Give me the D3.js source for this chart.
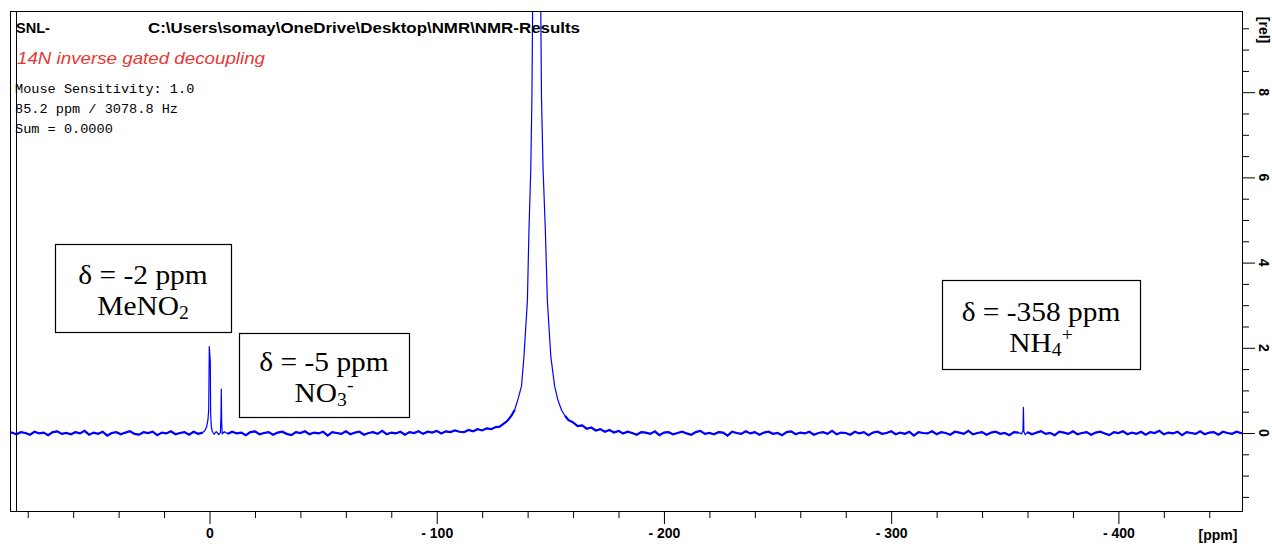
<!DOCTYPE html>
<html>
<head>
<meta charset="utf-8">
<script src="https://cdn.jsdelivr.net/npm/d3@7"></script>
<style>
  body { margin: 0; background: #fff; }
  svg { display: block; }
</style>
</head>
<body>
<div id="chart"></div>
<script>

// Spectrum, as [ppm, rel] pairs, split in pieces
const baselineLeft = [
  [87.8, 0.01], [87, 0.01], [85, -0.03], [83, 0.02], [81, 0.00], [79, -0.04], [77, 0.03], [75, -0.01],
  [73, 0.01], [71, -0.05], [69, 0.02], [67, 0.04], [65, -0.02], [63, 0.00], [61, -0.03],
  [59, 0.02], [57, -0.01], [55, 0.05], [53, -0.04], [51, 0.01], [49, -0.02], [47, 0.03],
  [45, -0.06], [43, 0.00], [41, 0.02], [39, -0.03], [37, 0.01], [35, 0.04], [33, -0.02],
  [31, -0.04], [29, 0.02], [27, 0.00], [25, 0.03], [23, -0.05], [21, 0.01], [19, -0.01],
  [17, 0.04], [15, -0.03], [13, 0.00], [11, 0.02], [9, -0.04], [7, 0.03], [5, -0.02], [3, 0.01]
];
const meno2Peak = [
  [2.0, 0.06], [1.3, 0.14], [0.7, 0.3], [0.35, 0.55], [0.09, 2.03], [-0.35, 1.67], [-0.5, 0.45],
  [-0.8, 0.15], [-1.2, 0.04], [-2, -0.03], [-3, 0.03], [-4, -0.04], [-4.8, 0.01]
];
const no3Peak = [
  [-5.05, 0.4], [-5.2, 1.03], [-5.35, 0.25], [-5.6, -0.02], [-6.5, 0.03]
];
const baselineMid = [
  [-8, -0.02], [-10, 0.03], [-12, -0.01], [-14, 0.01], [-16, -0.05], [-18, 0.02], [-20, 0.04],
  [-22, -0.03], [-24, 0.00], [-26, 0.02], [-28, -0.04], [-30, 0.01], [-32, 0.03], [-34, -0.02],
  [-36, -0.05], [-38, 0.02], [-40, 0.00], [-42, 0.04], [-44, -0.03], [-46, 0.01], [-48, -0.01],
  [-50, 0.03], [-52, -0.06], [-54, 0.02], [-56, 0.00], [-58, -0.02], [-60, 0.04], [-62, -0.03],
  [-64, 0.01], [-66, 0.03], [-68, -0.04], [-70, 0.00], [-72, 0.02], [-74, -0.02], [-76, 0.05],
  [-78, -0.03], [-80, 0.01], [-82, -0.01], [-84, 0.03], [-86, -0.04], [-88, 0.02], [-90, 0.00],
  [-92, 0.04], [-94, -0.02], [-96, 0.03], [-98, 0.01], [-100, 0.05], [-102, -0.01], [-104, 0.04],
  [-106, 0.02], [-108, 0.06], [-110, 0.03]
];
const mainPeak = [
  [-112, 0.02], [-114, 0.07], [-116, 0.04], [-118, 0.09], [-120, 0.06], [-122, 0.11], [-124, 0.09],
  [-126, 0.14], [-127.7, 0.15], [-129.5, 0.22], [-131, 0.28], [-132.8, 0.4], [-134.3, 0.54],
  [-135.8, 0.8], [-137.3, 1.1], [-138.4, 1.8], [-139.9, 3.1], [-140.6, 4.77], [-141.4, 6.2],
  [-141.9, 7.9], [-142.2, 9.9], [-143, 14], [-144, 18], [-145, 14], [-145.8, 9.9], [-146.1, 7.9],
  [-146.8, 6.2], [-147.8, 4.77], [-148.7, 3.1], [-150.2, 1.8], [-151.9, 1.1], [-153.3, 0.78],
  [-154.9, 0.54], [-156.5, 0.4], [-158, 0.3], [-160, 0.25], [-162, 0.16], [-164, 0.18],
  [-166, 0.1], [-168, 0.13], [-170, 0.06], [-172, 0.09], [-174, 0.03], [-176, 0.07],
  [-178, 0.01], [-180, 0.05]
];
const baselineRight = [
  [-182, -0.01], [-184, 0.03], [-186, 0.00], [-188, -0.04], [-190, 0.02], [-192, 0.01], [-194, -0.02],
  [-196, 0.04], [-198, -0.05], [-200, 0.01], [-202, 0.02], [-204, -0.03], [-206, 0.00], [-208, 0.03],
  [-210, -0.01], [-212, -0.04], [-214, 0.02], [-216, 0.05], [-218, -0.02], [-220, 0.00], [-222, -0.03],
  [-224, 0.02], [-226, 0.01], [-228, -0.06], [-230, 0.03], [-232, 0.00], [-234, -0.02], [-236, 0.04],
  [-238, -0.01], [-240, 0.02], [-242, -0.04], [-244, 0.01], [-246, 0.03], [-248, -0.02], [-250, 0.00],
  [-252, -0.05], [-254, 0.02], [-256, 0.04], [-258, -0.03], [-260, 0.01], [-262, -0.01], [-264, 0.03],
  [-266, -0.04], [-268, 0.00], [-270, 0.02], [-272, -0.02], [-274, 0.05], [-276, -0.03], [-278, 0.01],
  [-280, 0.00], [-282, -0.04], [-284, 0.03], [-286, -0.01], [-288, 0.02], [-290, -0.05], [-292, 0.01],
  [-294, 0.03], [-296, -0.02], [-298, 0.00], [-300, 0.04], [-302, -0.03], [-304, 0.01], [-306, -0.02],
  [-308, 0.03], [-310, -0.06], [-312, 0.02], [-314, 0.00], [-316, -0.01], [-318, 0.04], [-320, -0.03],
  [-322, 0.02], [-324, 0.00], [-326, -0.04], [-328, 0.03], [-330, 0.01], [-332, -0.02], [-334, 0.05],
  [-336, -0.03], [-338, 0.00], [-340, 0.02], [-342, -0.04], [-344, 0.01], [-346, 0.03], [-348, -0.02],
  [-350, 0.00], [-352, -0.05], [-354, 0.02], [-356, 0.01]
];
const nh4Peak = [
  [-357.4, -0.02], [-358.0, 0.05], [-358.2, 0.6], [-358.4, 0.03], [-359, -0.04]
];
const baselineTail = [
  [-360, 0.02], [-362, -0.03], [-364, 0.01], [-366, 0.04], [-368, -0.02], [-370, 0.00], [-372, -0.05],
  [-374, 0.03], [-376, 0.01], [-378, -0.02], [-380, 0.04], [-382, -0.03], [-384, 0.00], [-386, 0.02],
  [-388, -0.04], [-390, 0.01], [-392, 0.03], [-394, -0.01], [-396, -0.05], [-398, 0.02], [-400, 0.00],
  [-402, 0.04], [-404, -0.03], [-406, 0.01], [-408, -0.02], [-410, 0.03], [-412, -0.04], [-414, 0.02],
  [-416, 0.00], [-418, 0.05], [-420, -0.03], [-422, 0.01], [-424, -0.01], [-426, 0.03], [-428, -0.05],
  [-430, 0.02], [-432, 0.00], [-434, -0.02], [-436, 0.04], [-438, -0.03], [-440, 0.01], [-442, 0.02],
  [-444, -0.04], [-446, 0.03], [-448, 0.00], [-450, -0.02], [-452, 0.03], [-454.4, -0.01]
];

// Axis ticks
const ppmMajorTicks = [0, -100, -200, -300, -400];
const ppmMinorTicks = [80, 60, 40, 20, -20, -40, -60, -80, -120, -140, -160, -180, -220, -240, -260, -280,
  -320, -340, -360, -380, -420, -440];
const relMajorTicks = [0, 2, 4, 6, 8];
const relMinorTicks = [-1.5, -1, -0.5, 0.5, 1, 1.5, 2.5, 3, 3.5, 4.5, 5, 5.5, 6.5, 7, 7.5, 8.5, 9, 9.5];

// Header texts
const headerTitle = 'SNL-';
const headerPath = 'C:\\Users\\somay\\OneDrive\\Desktop\\NMR\\NMR-Results';
const headerComment = '14N inverse gated decoupling';
const infoLines = ['Mouse Sensitivity: 1.0', '85.2 ppm / 3078.8 Hz', 'Sum = 0.0000'];
const cursorPpm = 85.2;

// Annotation boxes: extents in ppm and rel
const annotations = [
  { ppm: [68, -9.5], rel: [4.44, 2.37], line1: 'δ = -2 ppm', base: 'MeNO', sub: '2', sup: '' },
  { ppm: [-13, -87.8], rel: [2.35, 0.38], line1: 'δ = -5 ppm', base: 'NO', sub: '3', sup: '-' },
  { ppm: [-322.4, -409.5], rel: [3.59, 1.50], line1: 'δ = -358 ppm', base: 'NH', sub: '4', sup: '+' }
];

const spectrum = [].concat(baselineLeft, meno2Peak, no3Peak, baselineMid, mainPeak,
  baselineRight, nh4Peak, baselineTail);
// the noisy stretches (and the low tails of the big peak) look like a thicker band
const noisy = [baselineLeft, baselineMid.concat(mainPeak.slice(0, 13)),
  mainPeak.slice(33).concat(baselineRight), baselineTail];

const width = 1272, height = 544;
const plot = { left: 10, right: 1242, top: 11, bottom: 511 };

const svg = d3.select('#chart')
  .append('svg')
    .attr('width', width)
    .attr('height', height);

const x = d3.scaleLinear()
  .domain([87.8, -454.4])
  .range([plot.left, plot.right]);

const y = d3.scaleLinear()
  .domain([-1.831, 9.906])
  .range([plot.bottom, plot.top]);

svg.append('defs').append('clipPath')
    .attr('id', 'plot-clip')
  .append('rect')
    .attr('x', plot.left)
    .attr('y', plot.top)
    .attr('width', plot.right - plot.left)
    .attr('height', plot.bottom - plot.top);

// Bottom axis
const bottom = svg.append('g')
  .attr('transform', 'translate(0,' + plot.bottom + ')');
bottom.append('g')
  .call(d3.axisBottom(x).tickValues(ppmMinorTicks).tickSize(7).tickFormat(''))
  .call(g => g.select('.domain').remove());
bottom.append('g')
  .call(d3.axisBottom(x).tickValues(ppmMajorTicks).tickSize(13).tickPadding(4)
    .tickFormat(d => d === 0 ? '0' : '- ' + Math.abs(d)))
  .call(g => g.select('.domain').remove())
  .call(g => g.selectAll('text')
    .attr('font-family', 'Liberation Sans, Arial, sans-serif')
    .attr('font-weight', 'bold')
    .attr('font-size', 14)
    .attr('fill', '#000'));
svg.append('text')
  .attr('x', 1218)
  .attr('y', 540)
  .attr('text-anchor', 'middle')
  .attr('font-family', 'Liberation Sans, Arial, sans-serif')
  .attr('font-weight', 'bold')
  .attr('font-size', 14)
  .text('[ppm]');

// Right axis, labels turned a quarter
const right = svg.append('g')
  .attr('transform', 'translate(' + plot.right + ',0)');
right.append('g')
  .call(d3.axisRight(y).tickValues(relMinorTicks).tickSize(7).tickFormat(''))
  .call(g => g.select('.domain').remove());
right.append('g')
  .call(d3.axisRight(y).tickValues(relMajorTicks).tickSize(13).tickFormat(''))
  .call(g => g.select('.domain').remove());
svg.append('g')
  .selectAll('text')
  .data(relMajorTicks)
  .enter()
  .append('text')
    .attr('transform', d => 'translate(1264,' + y(d) + ') rotate(90)')
    .attr('text-anchor', 'middle')
    .attr('dy', '0.36em')
    .attr('font-family', 'Liberation Sans, Arial, sans-serif')
    .attr('font-weight', 'bold')
    .attr('font-size', 14)
    .text(d => d);
svg.append('text')
  .attr('transform', 'translate(1264,30) rotate(90)')
  .attr('text-anchor', 'middle')
  .attr('dy', '0.36em')
  .attr('font-family', 'Liberation Sans, Arial, sans-serif')
  .attr('font-weight', 'bold')
  .attr('font-size', 14)
  .text('[rel]');

// Spectrum
const line = d3.line()
  .x(d => x(d[0]))
  .y(d => y(d[1]));
const spec = svg.append('g')
  .attr('clip-path', 'url(#plot-clip)');
spec.append('path')
  .datum(spectrum)
  .attr('fill', 'none')
  .attr('stroke', '#0000ff')
  .attr('stroke-width', 1.2)
  .attr('stroke-linejoin', 'round')
  .attr('d', line);
spec.selectAll('path.noise')
  .data(noisy)
  .enter()
  .append('path')
    .attr('class', 'noise')
    .attr('fill', 'none')
    .attr('stroke', '#0000ff')
    .attr('stroke-width', 2.2)
    .attr('d', line);

// Frame and cursor line
svg.append('rect')
  .attr('x', plot.left + 0.5)
  .attr('y', plot.top + 0.5)
  .attr('width', plot.right - plot.left)
  .attr('height', plot.bottom - plot.top)
  .attr('fill', 'none')
  .attr('stroke', '#000');
svg.append('line')
  .attr('x1', Math.round(x(cursorPpm)) + 0.5)
  .attr('x2', Math.round(x(cursorPpm)) + 0.5)
  .attr('y1', plot.top)
  .attr('y2', plot.bottom)
  .attr('stroke', '#000');

// Header
svg.append('text')
  .attr('x', 16).attr('y', 33)
  .attr('font-family', 'Liberation Sans, Arial, sans-serif')
  .attr('font-weight', 'bold').attr('font-size', 14.5)
  .text(headerTitle);
svg.append('text')
  .attr('x', 148).attr('y', 33)
  .attr('font-family', 'Liberation Sans, Arial, sans-serif')
  .attr('font-weight', 'bold').attr('font-size', 14.5)
  .attr('textLength', 432).attr('lengthAdjust', 'spacingAndGlyphs')
  .text(headerPath);
svg.append('text')
  .attr('x', 17).attr('y', 64)
  .attr('font-family', 'Liberation Sans, Arial, sans-serif')
  .attr('font-style', 'italic').attr('font-size', 17)
  .attr('fill', '#e53935')
  .attr('textLength', 248).attr('lengthAdjust', 'spacingAndGlyphs')
  .text(headerComment);
svg.append('g')
  .selectAll('text')
  .data(infoLines)
  .enter()
  .append('text')
    .attr('x', 15)
    .attr('y', (d, i) => 93 + i * 20)
    .attr('font-family', 'Liberation Mono, monospace')
    .attr('font-size', 12.5)
    .attr('textLength', d => d.length * 8.15)
    .attr('lengthAdjust', 'spacingAndGlyphs')
    .text(d => d);

// Annotation boxes
const boxes = svg.append('g')
  .selectAll('g')
  .data(annotations)
  .enter()
  .append('g');
boxes.append('rect')
  .attr('x', d => Math.round(x(d.ppm[0])) + 0.5)
  .attr('y', d => Math.round(y(d.rel[0])) + 0.5)
  .attr('width', d => Math.round(x(d.ppm[1]) - x(d.ppm[0])))
  .attr('height', d => Math.round(y(d.rel[1]) - y(d.rel[0])))
  .attr('fill', '#fff')
  .attr('stroke', '#000')
  .attr('stroke-width', 1.2);
const cx = d => (x(d.ppm[0]) + x(d.ppm[1])) / 2;
const cy = d => (y(d.rel[0]) + y(d.rel[1])) / 2;
boxes.append('text')
  .attr('transform', d => 'translate(' + cx(d) + ',' + (cy(d) - 4) + ') scale(1.09,1)')
  .attr('text-anchor', 'middle')
  .attr('font-family', 'Liberation Serif, Times New Roman, serif')
  .attr('font-size', 27)
  .text(d => d.line1);
const second = boxes.append('text')
  .attr('transform', d => 'translate(' + cx(d) + ',' + (cy(d) + 27) + ') scale(1.09,1)')
  .attr('text-anchor', 'middle')
  .attr('font-family', 'Liberation Serif, Times New Roman, serif')
  .attr('font-size', 27);
second.append('tspan').text(d => d.base);
second.append('tspan')
  .attr('font-size', 18)
  .attr('dy', 4)
  .text(d => d.sub);
second.append('tspan')
  .attr('font-size', 18)
  .attr('dy', -15)
  .text(d => d.sup);

</script>
</body>
</html>
